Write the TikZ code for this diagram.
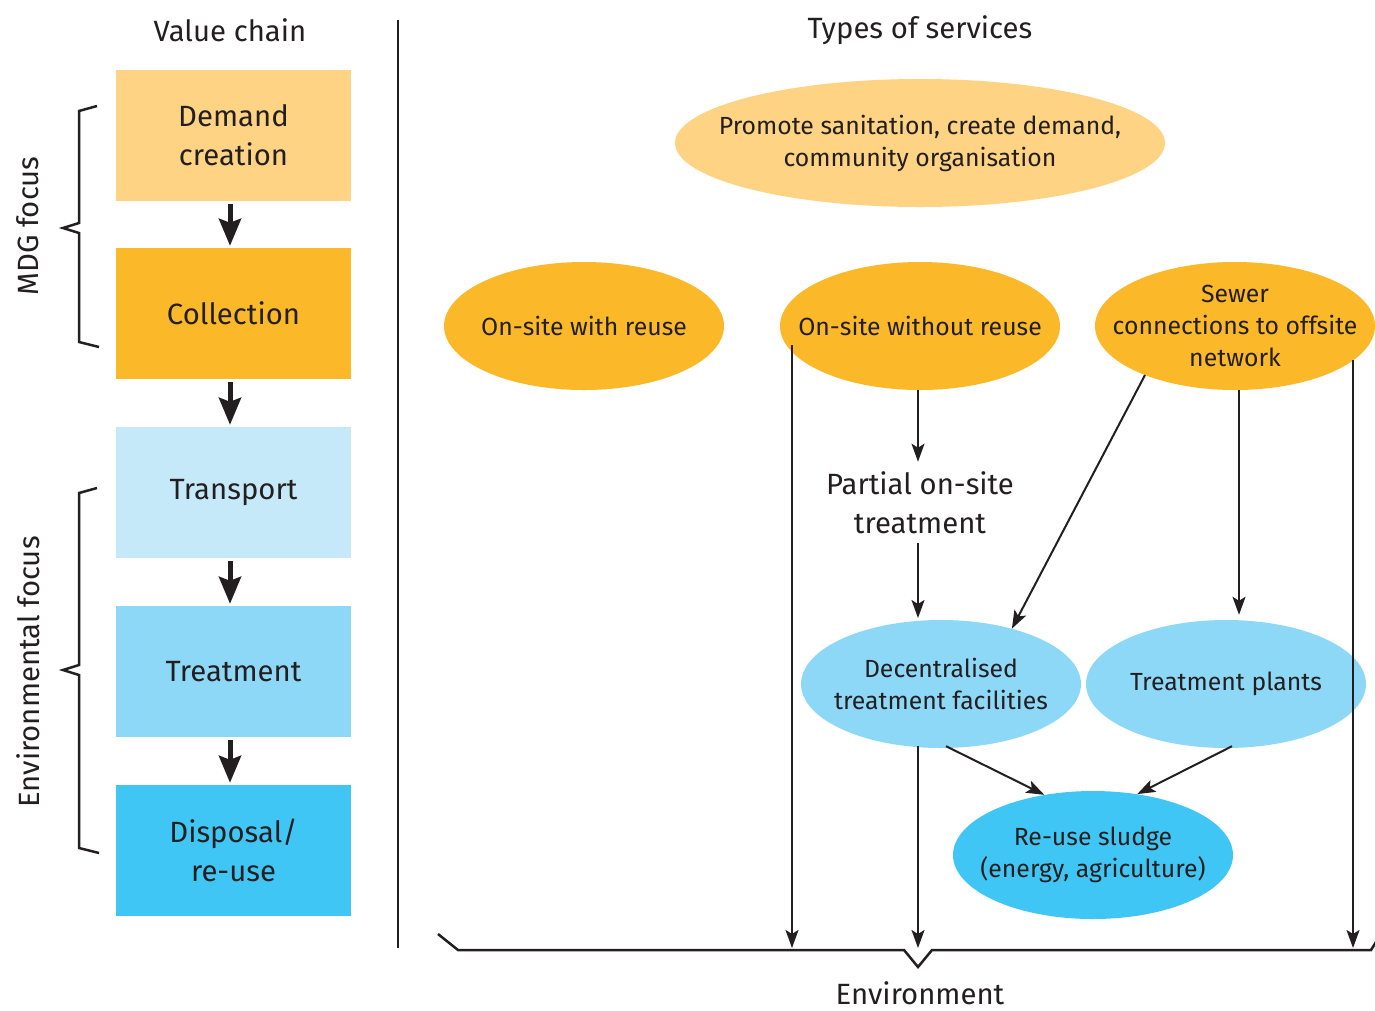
\documentclass[tikz,border=0pt]{standalone}
\usepackage{fontspec}
\setmainfont{Fira Sans}
\usetikzlibrary{arrows.meta,calc,shapes.geometric}
\definecolor{lorange}{HTML}{FED383}
\definecolor{morange}{HTML}{FBB829}
\definecolor{lblue}{HTML}{C6E9F9}
\definecolor{mblue}{HTML}{8DD8F7}
\definecolor{sblue}{HTML}{40C6F4}
\definecolor{ink}{HTML}{231F20}
\begin{document}
\begin{tikzpicture}[x=1pt,y=-1pt,
  bigfont/.style={font=\fontsize{29.3}{39}\selectfont},
  smallfont/.style={font=\fontsize{24.8}{32}\selectfont},
  chainbox/.style={rectangle, minimum width=235pt, minimum height=131pt, inner sep=0pt, text=ink, align=center, bigfont},
  service/.style={ellipse, minimum width=280pt, minimum height=128pt, inner sep=0pt, draw=none},
  bigarrow/.style={draw=ink, line width=5pt, -{Stealth[length=27pt,width=22pt,inset=4pt]}},
  thinarrow/.style={draw=ink, line width=2pt, -{Stealth[length=18pt,width=13pt,inset=4pt]}},
  braceline/.style={draw=ink, line width=2.5pt, line join=miter},
  title/.style={text=ink, bigfont}
]
\useasboundingbox (0,0) rectangle (1375,1010);

% titles
\node[title] (vctitle) at (230,30) {Value chain};
\node[title] (tstitle) at (920,30) {Types of services};
\node[title, anchor=base, inner sep=0pt] (envtitle) at (920,1004) {Environment};

% divider
\coordinate (divtop) at (398,20);
\coordinate (divbot) at (398,948);
\draw[draw=ink, line width=2pt] (divtop) -- (divbot);

% value chain boxes
\node[chainbox, fill=lorange] (demand) at (233.5,135.5) {Demand\\creation};
\node[chainbox, fill=morange] (collection) at (233.5,313.5) {Collection};
\node[chainbox, fill=lblue] (transport) at (233.5,492.5) {Transport};
\node[chainbox, fill=mblue] (treatment) at (233.5,671.5) {Treatment};
\node[chainbox, fill=sblue] (disposal) at (233.5,850.5) {Disposal/\\re-use};

\draw[bigarrow, shorten <=3pt, shorten >=2pt] ($(demand.south)+(-3.5,0)$) -- ($(collection.north)+(-3.5,0)$);
\draw[bigarrow, shorten <=3pt, shorten >=2pt] ($(collection.south)+(-3.5,0)$) -- ($(transport.north)+(-3.5,0)$);
\draw[bigarrow, shorten <=3pt, shorten >=2pt] ($(transport.south)+(-3.5,0)$) -- ($(treatment.north)+(-3.5,0)$);
\draw[bigarrow, shorten <=3pt, shorten >=2pt] ($(treatment.south)+(-3.5,0)$) -- ($(disposal.north)+(-3.5,0)$);

% braces
\draw[braceline] (97,106) -- (79,111) -- (79,223) -- (63,228) -- (79,233) -- (79,342) -- (99,347);
\draw[braceline] (97,488) -- (79,493) -- (79,665) -- (63,670) -- (79,675) -- (79,848) -- (99,853);
\node[title, rotate=90] (mdg) at (28,226) {MDG focus};
\node[title, rotate=90] (envfocus) at (28,672) {Environmental focus};

% services
\node[service, minimum width=490pt, fill=lorange,
  label={[smallfont, text=ink, align=center]center:Promote sanitation, create demand,\\community organisation}] (promote) at (920,143) {};
\node[service, fill=morange,
  label={[smallfont, text=ink, align=center]center:On-site with reuse}] (reuse) at (584,326) {};
\node[service, fill=morange,
  label={[smallfont, text=ink, align=center]center:On-site without reuse}] (noreuse) at (920,326) {};
\node[service, fill=morange,
  label={[smallfont, text=ink, align=center]center:Sewer\\connections to offsite\\network}] (sewer) at (1235,326) {};
\node[service, fill=mblue,
  label={[smallfont, text=ink, align=center]center:Decentralised\\treatment facilities}] (decent) at (941,684) {};
\node[service, fill=mblue,
  label={[smallfont, text=ink, align=center]center:Treatment plants}] (plants) at (1226,684) {};
\node[service, fill=sblue,
  label={[smallfont, text=ink, align=center]center:Re-use sludge\\(energy, agriculture)}] (sludge) at (1093,855) {};

\node[bigfont, text=ink, align=center, inner sep=9pt] (partial) at (920,503) {Partial on-site\\treatment};

% environment brace
\coordinate (b1) at (438,934);
\coordinate (b2) at (458,950);
\coordinate (b3) at (904,950);
\coordinate (b4) at (918,967);
\coordinate (b5) at (932,950);
\coordinate (b6) at (1371,950);
\coordinate (b7) at (1376,942);
\draw[braceline] (b1) -- (b2) -- (b3) -- (b4) -- (b5) -- (b6) -- (b7);

% connectors
\draw[thinarrow, shorten >=1pt] ($(noreuse.south)+(-2,0)$) -- ($(partial.north)+(-2,0)$);
\draw[thinarrow, shorten >=2pt] ($(partial.south)+(-2,0)$) -- ($(decent.center)+(-23,-64)$);
\draw[thinarrow] ($(sewer.center)+(-90,49)$) -- (decent.38);
\coordinate (plantsin) at ($(plants.north)+(13,0)$);
\draw[thinarrow, shorten >=5pt] ($(sewer.south)+(4,0)$) -- (plantsin);
\draw[thinarrow] ($(decent.south)+(5,-2)$) -- (sludge.129);
\draw[thinarrow] ($(plants.south)+(6,-2)$) -- (sludge.54);

\coordinate (e1) at (792,950);
\coordinate (e2) at (918,950);
\coordinate (e3) at (1353,950);
\draw[thinarrow, shorten >=2pt] ($(noreuse.center)+(-128,19)$) -- (e1);
\draw[thinarrow, shorten >=2pt] ($(decent.center)+(-23,62)$) -- (e2);
\draw[thinarrow, shorten >=2pt] ($(sewer.center)+(118,34)$) -- (e3);
\end{tikzpicture}
\end{document}
